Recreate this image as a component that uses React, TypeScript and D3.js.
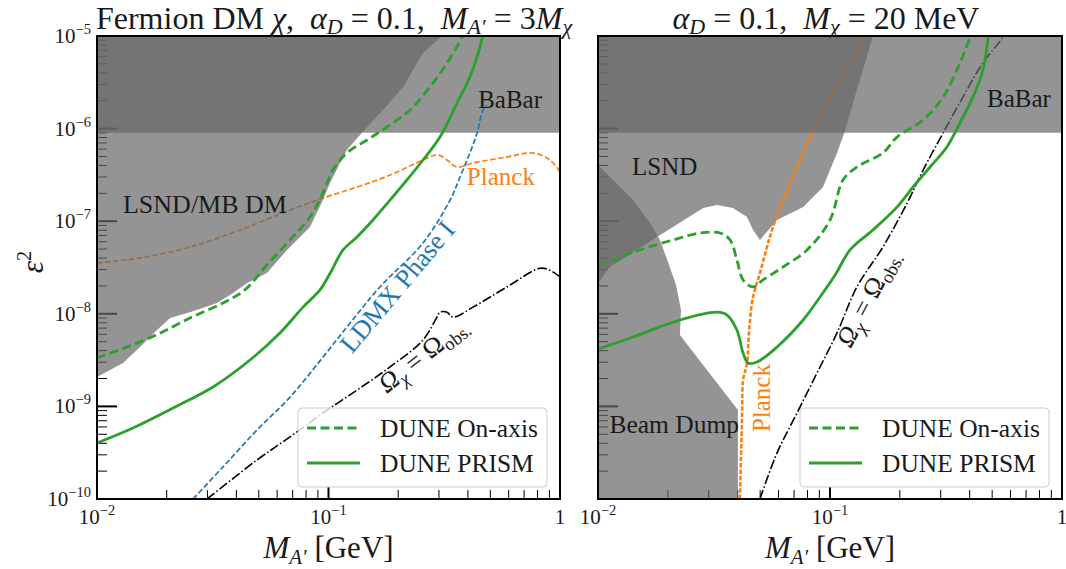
import * as React from "react";
import * as d3 from "d3";

// axis ranges (both panels share them)
const xDomain = [0.01, 1];
const yDomain = [1e-10, 1e-5];

// ---- left panel: fermion DM, M_A' = 3 M_chi ----
const leftBabar = [[0.01, 9.0e-7], [1, 9.0e-7]];
const leftLsndMb = [
  [0.309, 1e-5], [0.256, 6.55e-6], [0.21, 2.81e-6], [0.172, 1.59e-6], [0.1467, 1.04e-6],
  [0.1368, 8.53e-7], [0.12, 5.88e-7], [0.1099, 3.85e-7], [0.1015, 2.59e-7], [0.0946, 1.69e-7],
  [0.0832, 8.65e-8], [0.0662, 4.89e-8], [0.0542, 2.76e-8], [0.0445, 2.15e-8], [0.0387, 1.68e-8],
  [0.033, 1.31e-8], [0.0252, 1.04e-8], [0.0207, 9.0e-9], [0.01816, 6.68e-9], [0.01534, 4.38e-9],
  [0.01295, 2.94e-9], [0.01, 2.08e-9],
];
const leftOnAxis = [
  [0.01, 3.33e-9], [0.0169, 5.5e-9], [0.0252, 9.0e-9], [0.035, 1.31e-8], [0.0435, 1.81e-8],
  [0.0542, 3.37e-8], [0.0682, 6.27e-8], [0.0832, 1.11e-7], [0.0947, 2.02e-7], [0.1045, 3.57e-7],
  [0.12, 5.45e-7], [0.1467, 7.54e-7], [0.179, 1.04e-6], [0.225, 1.59e-6], [0.274, 2.81e-6],
  [0.325, 5.11e-6], [0.377, 9.75e-6], [0.38, 1.1e-5],
];
const leftPrism = [
  [0.01, 4.03e-10], [0.0143, 5.85e-10], [0.0213, 9.6e-10], [0.0317, 1.62e-9], [0.0458, 3.17e-9],
  [0.0617, 6.2e-9], [0.0776, 1.18e-8], [0.0919, 1.81e-8], [0.1016, 2.74e-8], [0.1156, 4.89e-8],
  [0.1328, 6.75e-8], [0.1556, 1.03e-7], [0.1844, 1.69e-7], [0.2183, 2.79e-7], [0.256, 4.58e-7],
  [0.303, 8.1e-7], [0.359, 1.89e-6], [0.408, 3.6e-6], [0.451, 7.6e-6], [0.467, 1.1e-5],
];
const leftPlanck = [
  [0.01, 3.54e-8], [0.01534, 4.01e-8], [0.0252, 5.26e-8], [0.0415, 8.03e-8], [0.0682, 1.32e-7],
  [0.0947, 1.78e-7], [0.1328, 2.34e-7], [0.1844, 3.15e-7], [0.256, 4.58e-7], [0.297, 5.19e-7],
  [0.325, 4.58e-7], [0.359, 3.85e-7], [0.421, 4.25e-7], [0.59, 4.93e-7], [0.764, 5.45e-7],
  [0.905, 4.58e-7], [1.0, 3.4e-7],
];
const leftLdmx = [
  [0.026, 1e-10], [0.035, 2.22e-10], [0.0491, 5.56e-10], [0.0682, 1.26e-9], [0.0947, 3.41e-9],
  [0.124, 7.96e-9], [0.1668, 1.95e-8], [0.256, 5.82e-8], [0.335, 1.69e-7], [0.37, 3.0e-7],
  [0.408, 5.45e-7], [0.438, 8.95e-7], [0.465, 1.59e-6], [0.484, 1.8e-6],
];
const leftOmega = [
  [0.0299, 1e-10], [0.0491, 2.64e-10], [0.0682, 4.68e-10], [0.0947, 8.49e-10], [0.1328, 1.5e-9],
  [0.1844, 2.67e-9], [0.256, 5.21e-9], [0.294, 9.2e-9], [0.303, 1.04e-8], [0.325, 1.04e-8],
  [0.345, 9.2e-9], [0.421, 1.18e-8], [0.59, 1.95e-8], [0.82, 3.1e-8], [0.905, 2.95e-8], [1.0, 2.5e-8],
];

// ---- right panel: M_chi = 20 MeV ----
const rightBabar = [[0.01, 9.0e-7], [1, 9.0e-7]];
const rightLsnd = [
  [0.153, 1e-5], [0.1416, 5.11e-6], [0.1256, 1.89e-6], [0.116, 9.42e-7], [0.1072, 5.45e-7],
  [0.0933, 2.34e-7], [0.0766, 1.42e-7], [0.0591, 1.03e-7], [0.0499, 6.27e-8], [0.0466, 8.03e-8],
  [0.0439, 1.11e-7], [0.0382, 1.39e-7], [0.0326, 1.5e-7], [0.0284, 1.39e-7], [0.01796, 6.75e-8],
  [0.01127, 3.2e-8], [0.01, 2.15e-8],
];
const rightBeamDump = [
  [0.01, 4.05e-7], [0.01416, 1.69e-7], [0.01675, 9.57e-8], [0.01849, 6.27e-8], [0.02003, 3.62e-8],
  [0.02169, 2.05e-8], [0.02279, 1.1e-8], [0.02254, 5.9e-9], [0.0401, 9.14e-10], [0.0401, 1e-10],
];
const rightOnAxis = [
  [0.01, 3.28e-8], [0.01517, 4.89e-8], [0.02105, 6.27e-8], [0.02754, 7.46e-8], [0.03357, 7.46e-8],
  [0.0371, 6.27e-8], [0.0397, 3.81e-8], [0.0422, 2.32e-8], [0.0466, 1.95e-8], [0.0514, 2.32e-8],
  [0.0627, 3.2e-8], [0.0796, 4.89e-8], [0.1, 1.03e-7], [0.1138, 2.79e-7], [0.1306, 3.85e-7],
  [0.169, 5.45e-7], [0.1944, 8.1e-7], [0.252, 1.24e-6], [0.307, 2.19e-6], [0.363, 5.11e-6],
  [0.401, 9.75e-6], [0.403, 1.1e-5],
];
const rightPrism = [
  [0.01, 4.17e-9], [0.01416, 5.61e-9], [0.02254, 8.57e-9], [0.0326, 1.04e-8], [0.036, 9.7e-9],
  [0.0397, 6.68e-9], [0.0422, 3.78e-9], [0.0443, 2.94e-9], [0.0485, 3.02e-9], [0.0591, 4.38e-9],
  [0.0766, 8.57e-9], [0.0906, 1.52e-8], [0.1052, 2.62e-8], [0.122, 4.89e-8], [0.153, 8.03e-8],
  [0.1944, 1.42e-7], [0.228, 2.34e-7], [0.27, 3.85e-7], [0.319, 6.33e-7], [0.363, 1.15e-6],
  [0.413, 2.19e-6], [0.456, 4.29e-6], [0.479, 9.05e-6], [0.483, 1.1e-5],
];
const rightPlanck = [
  [0.0409, 1e-10], [0.0418, 8.49e-10], [0.0422, 1.93e-9], [0.0439, 2.94e-9], [0.0448, 6.68e-9],
  [0.0466, 1.52e-8], [0.0499, 2.76e-8], [0.0535, 5.26e-8], [0.0568, 8.65e-8], [0.0627, 1.69e-7],
  [0.0721, 3.85e-7], [0.082, 8.1e-7], [0.0933, 1.59e-6], [0.1072, 2.81e-6], [0.122, 5.11e-6],
  [0.1387, 9.75e-6],
];
const rightOmega = [
  [0.0499, 1e-10], [0.0591, 3.14e-10], [0.0721, 8.49e-10], [0.0879, 2.3e-9], [0.1072, 6.21e-9],
  [0.1306, 1.95e-8], [0.169, 5.26e-8], [0.215, 1.57e-7], [0.252, 3.57e-7], [0.307, 8.95e-7],
  [0.374, 2.19e-6], [0.456, 5.11e-6], [0.557, 9.75e-6], [0.57, 1.1e-5],
];

const legendLabels = ["DUNE On-axis", "DUNE PRISM"];

const FONT = "Liberation Serif, DejaVu Serif, Times New Roman, serif";
const GREEN = "#2ca02c";
const ORANGE = "#ff7f0e";
const BLUE = "#1f77b4";
const FILL = "#666666";
const FILL_OP = 0.7;

const TOP = 36;
const BOTTOM = 499;

const smooth = (x, y) =>
  d3.line().x(d => x(d[0])).y(d => y(d[1])).curve(d3.curveCatmullRom.alpha(0.5));
const straight = (x, y) => d3.line().x(d => x(d[0])).y(d => y(d[1]));

const Curve = ({ data, x, y, ...rest }) => (
  <path d={smooth(x, y)(data)} fill="none" {...rest} />
);

// closes a boundary with extra corner points given in data units
const Region = ({ data, corners, x, y }) => (
  <path d={straight(x, y)(data.concat(corners)) + "Z"} fill={FILL} fillOpacity={FILL_OP} />
);

const isMajor = v => Math.abs(Math.log10(v) - Math.round(Math.log10(v))) < 1e-6;

const Pow = ({ k, ...rest }) =>
  k === 0 ? (
    <text {...rest}>1</text>
  ) : (
    <text {...rest}>
      <tspan>10</tspan>
      <tspan fontSize={14.5} dy={-9}>{`\u2212${-k}`}</tspan>
    </text>
  );

const Ticks = ({ x, y }) => {
  const [x0] = x.range();
  return (
    <g>
      {x.ticks().map((v, i) => (
        <line key={"x" + i} x1={x(v)} x2={x(v)} y1={BOTTOM} y2={BOTTOM - (isMajor(v) ? 12 : 9)}
          stroke="#000" strokeWidth={isMajor(v) ? 2 : 1} />
      ))}
      {y.ticks().map((v, i) => (
        <line key={"y" + i} x1={x0} x2={x0 + (isMajor(v) ? 20 : 10)} y1={y(v)} y2={y(v)}
          stroke="#000" strokeWidth={isMajor(v) ? 2 : 1} />
      ))}
    </g>
  );
};

const TickLabels = ({ x, y, labelsY }) => {
  const [x0] = x.range();
  return (
    <g fontFamily={FONT} fill="#1a1a1a">
      {x.ticks().filter(isMajor).map((v, i) => (
        <Pow key={"xl" + i} k={Math.round(Math.log10(v))} x={x(v)} y={BOTTOM + 25} fontSize={21}
          textAnchor="middle" />
      ))}
      {labelsY &&
        y.ticks().filter(isMajor).map((v, i) => (
          <Pow key={"yl" + i} k={Math.round(Math.log10(v))} x={x0 - 6} y={y(v) + 7} fontSize={21}
            textAnchor="end" />
        ))}
    </g>
  );
};

const Legend = ({ x }) => {
  const [, x1] = x.range();
  const bx = x1 - 262;
  const by = BOTTOM - 91;
  return (
    <g fontFamily={FONT}>
      <rect x={bx} y={by} width={249} height={79} rx={4} fill="#fff" fillOpacity={0.8}
        stroke="#cccccc" strokeWidth={1} />
      {legendLabels.map((lab, i) => (
        <g key={lab}>
          <line x1={bx + 9} x2={bx + 62} y1={by + 20 + i * 35} y2={by + 20 + i * 35} stroke={GREEN}
            strokeWidth={2.8} strokeDasharray={i === 0 ? "9,4.5" : null} />
          <text x={bx + 82} y={by + 29 + i * 35} fontSize={25.5} fill="#1a1a1a">{lab}</text>
        </g>
      ))}
    </g>
  );
};

const OmegaLabel = ({ x, y, angle }) => (
  <text transform={`translate(${x},${y}) rotate(${angle})`} textAnchor="middle" fontFamily={FONT}
    fontSize={26.5} fill="#1a1a1a" style={{ whiteSpace: "pre" }}>
    <tspan fontStyle="italic">Ω</tspan>
    <tspan fontSize={18.5} dy={5} fontStyle="italic">χ</tspan>
    <tspan dy={-5}>{" = "}</tspan>
    <tspan>Ω</tspan>
    <tspan fontSize={18.5} dy={5}>obs.</tspan>
  </text>
);

const XLabel = ({ x }) => {
  const [a, b] = x.range();
  return (
    <text x={(a + b) / 2} y={558} textAnchor="middle" fontFamily={FONT} fontSize={31} fill="#1a1a1a"
      style={{ whiteSpace: "pre" }}>
      <tspan fontStyle="italic">M</tspan>
      <tspan fontSize={21} dy={6} fontStyle="italic">{"A\u2032"}</tspan>
      <tspan dy={-6}>{" [GeV]"}</tspan>
    </text>
  );
};

const Frame = ({ x }) => {
  const [a, b] = x.range();
  return <rect x={a} y={TOP} width={b - a} height={BOTTOM - TOP} fill="none" stroke="#000" strokeWidth={2} />;
};

const App = () => {
  const xL = d3.scaleLog().domain(xDomain).range([97, 560]);
  const xR = d3.scaleLog().domain(xDomain).range([598, 1062]);
  const y = d3.scaleLog().domain(yDomain).range([BOTTOM, TOP]);
  const [xmin, xmax] = xDomain;
  const [ymin, ymax] = yDomain;
  const top = [[xmax, ymax], [xmin, ymax]];

  const greenDash = { stroke: GREEN, strokeWidth: 2.8, strokeDasharray: "9,4.5" };
  const greenSolid = { stroke: GREEN, strokeWidth: 2.8 };

  return (
    <svg width={1066} height={569}
      style={{ position: "absolute", left: 0, top: 0, display: "block", background: "#fff" }}>
      <defs>
        <clipPath id="clipL"><rect x={97} y={TOP} width={463} height={BOTTOM - TOP} /></clipPath>
        <clipPath id="clipR"><rect x={598} y={TOP} width={464} height={BOTTOM - TOP} /></clipPath>
      </defs>

      {/* titles */}
      <text x={334} y={29} textAnchor="middle" fontFamily={FONT} fontSize={32} fill="#1a1a1a"
        style={{ whiteSpace: "pre" }}>
        <tspan>{"Fermion DM "}</tspan>
        <tspan fontStyle="italic">χ</tspan>
        <tspan>{",  "}</tspan>
        <tspan fontStyle="italic">α</tspan>
        <tspan fontSize={22} dy={5} fontStyle="italic">D</tspan>
        <tspan dy={-5}>{" = 0.1,  "}</tspan>
        <tspan fontStyle="italic">M</tspan>
        <tspan fontSize={22} dy={5} fontStyle="italic">{"A\u2032"}</tspan>
        <tspan dy={-5}>{" = 3"}</tspan>
        <tspan fontStyle="italic">M</tspan>
        <tspan fontSize={22} dy={5} fontStyle="italic">χ</tspan>
      </text>
      <text x={826} y={29} textAnchor="middle" fontFamily={FONT} fontSize={32} fill="#1a1a1a"
        style={{ whiteSpace: "pre" }}>
        <tspan fontStyle="italic">α</tspan>
        <tspan fontSize={22} dy={5} fontStyle="italic">D</tspan>
        <tspan dy={-5}>{" = 0.1,  "}</tspan>
        <tspan fontStyle="italic">M</tspan>
        <tspan fontSize={22} dy={5} fontStyle="italic">χ</tspan>
        <tspan dy={-5}>{" = 20 MeV"}</tspan>
      </text>

      {/* y label */}
      <text transform="translate(43,262) rotate(-90)" textAnchor="middle" fontFamily={FONT} fontSize={31}
        fill="#1a1a1a">
        <tspan fontStyle="italic">ε</tspan>
        <tspan fontSize={21} dy={-12}>2</tspan>
      </text>

      {/* ---------- left panel ---------- */}
      <Ticks x={xL} y={y} />
      <g clipPath="url(#clipL)">
        <Curve data={leftPlanck} x={xL} y={y} stroke={ORANGE} strokeWidth={1.7} strokeDasharray="5.5,2.5" />
        <Curve data={leftOmega} x={xL} y={y} stroke="#000" strokeWidth={1.6} strokeDasharray="9.6,2.4,1.5,2.4" />
        <Region data={leftBabar} corners={top} x={xL} y={y} />
        <Region data={leftLsndMb} corners={[[xmin, ymax]]} x={xL} y={y} />
        <Curve data={leftLdmx} x={xL} y={y} stroke={BLUE} strokeWidth={1.7} strokeDasharray="5.5,2.5" />
        <Curve data={leftOnAxis} x={xL} y={y} {...greenDash} />
        <Curve data={leftPrism} x={xL} y={y} {...greenSolid} />
      </g>
      <g fontFamily={FONT} fontSize={25}>
        <text x={xL(0.443)} y={y(1.67e-6)} fill="#1a1a1a">BaBar</text>
        <text x={xL(0.01295)} y={y(1.23e-7)} fill="#1a1a1a" fontSize={26}>LSND/MB DM</text>
        <text x={xL(0.396)} y={y(2.46e-7)} fill={ORANGE}>Planck</text>
        <text transform={`translate(${xL(0.212)},${y(1.7e-8)}) rotate(-50)`} textAnchor="middle" fill={BLUE}
          fontSize={26.5}>
          LDMX Phase I
        </text>
      </g>
      <OmegaLabel x={xL(0.27)} y={y(3.05e-9)} angle={-38} />
      <Legend x={xL} />
      <Frame x={xL} />
      <TickLabels x={xL} y={y} labelsY={true} />
      <XLabel x={xL} />

      {/* ---------- right panel ---------- */}
      <Ticks x={xR} y={y} />
      <g clipPath="url(#clipR)">
        <Curve data={rightOmega} x={xR} y={y} stroke="#000" strokeWidth={1.6} strokeDasharray="9.6,2.4,1.5,2.4" />
        <Region data={rightLsnd} corners={[[xmin, ymax]]} x={xR} y={y} />
        <Region data={rightBeamDump} corners={[[xmin, ymin]]} x={xR} y={y} />
        <Curve data={rightPlanck} x={xR} y={y} stroke={ORANGE} strokeWidth={2.6} strokeDasharray="4.5,1.8" />
        <Region data={rightBabar} corners={top} x={xR} y={y} />
        <Curve data={rightOnAxis} x={xR} y={y} {...greenDash} />
        <Curve data={rightPrism} x={xR} y={y} {...greenSolid} />
      </g>
      <g fontFamily={FONT} fontSize={25}>
        <text x={xR(0.475)} y={y(1.71e-6)} fill="#1a1a1a">BaBar</text>
        <text x={xR(0.01402)} y={y(3.15e-7)} fill="#1a1a1a">LSND</text>
        <text x={xR(0.0112)} y={y(5.16e-10)} fill="#1a1a1a" fontSize={25.5}>Beam Dump</text>
        <text transform={`translate(${xR(0.0551)},${y(1.23e-9)}) rotate(-90)`} textAnchor="middle" fill={ORANGE}>
          Planck
        </text>
      </g>
      <OmegaLabel x={xR(0.157)} y={y(1.33e-8)} angle={-62} />
      <Legend x={xR} />
      <Frame x={xR} />
      <TickLabels x={xR} y={y} labelsY={false} />
      <XLabel x={xR} />
    </svg>
  );
};

export default App;
